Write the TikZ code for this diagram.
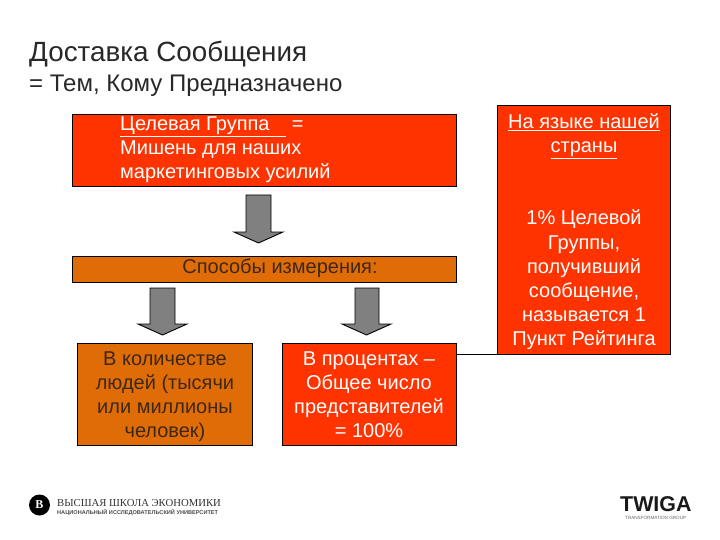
\documentclass[tikz,border=0pt]{standalone}
\usepackage{fontspec}
\setmainfont{Liberation Sans}
\newfontfamily\logoserif{Liberation Serif}
\definecolor{redbox}{RGB}{255,51,0}
\definecolor{orangebox}{RGB}{224,108,8}
\definecolor{arrowgray}{RGB}{128,128,128}
\definecolor{darktxt}{RGB}{60,40,20}
\definecolor{titletxt}{RGB}{40,40,40}
\tikzset{
 box/.style={draw=black,line width=0.9pt,inner sep=0pt,anchor=north west},
 redb/.style={box,fill=redbox},
 orb/.style={box,fill=orangebox},
 ln/.style={font=\fontsize{20}{24}\selectfont,align=center,inner sep=0pt},
 lnl/.style={anchor=base west,inner sep=0pt,font=\fontsize{20}{24}\selectfont,text=white},
 downarrow/.style={draw=black,line width=0.9pt,fill=arrowgray},
}
\begin{document}
\begin{tikzpicture}[x=1pt,y=-1pt]
\useasboundingbox (0,0) rectangle (720,540);
\fill[white] (0,0) rectangle (720,540);
\node[anchor=base west,inner sep=0pt,text=titletxt,font=\fontsize{27.8}{30}\selectfont] (title) at (29,62) {Доставка Сообщения};
\node[anchor=base west,inner sep=0pt,text=titletxt,font=\fontsize{24}{26}\selectfont] (sub) at (29,92) {= Тем, Кому Предназначено};
\node[redb,minimum width=384pt,minimum height=72pt] (b1) at (72,114) {};
\node[redb,minimum width=173pt,minimum height=249pt] (r) at (497,105) {};
\node[orb,minimum width=384pt,minimum height=26pt] (b2) at (72,256) {};
\node[orb,minimum width=175pt,minimum height=102pt] (b3) at (77,343) {};
\node[redb,minimum width=174pt,minimum height=102pt] (b4) at (282,343) {};
\node[lnl] (t1a) at (120,131) {\underline{Целевая Группа\ \ \ }\ =};
\node[lnl] (t1b) at (120,155) {Мишень для наших};
\node[lnl] (t1c) at (120,179) {маркетинговых усилий};
\node[ln,anchor=base,text=darktxt] (t2) at (280,273) {Способы измерения:};
\node[ln,text=darktxt,anchor=base] (t3a) at (165,365) {В количестве};
\node[ln,text=darktxt,anchor=base] (t3b) at (165,389) {людей (тысячи};
\node[ln,text=darktxt,anchor=base] (t3c) at (165,413) {или миллионы};
\node[ln,text=darktxt,anchor=base] (t3d) at (165,437) {человек)};
\node[ln,text=white,anchor=base] (t4a) at (369,365) {В процентах --};
\node[ln,text=white,anchor=base] (t4b) at (369,389) {Общее число};
\node[ln,text=white,anchor=base] (t4c) at (369,413) {представителей};
\node[ln,text=white,anchor=base] (t4d) at (369,437) {= 100\%};
\node[ln,text=white,anchor=base] (t5a) at (584,129) {\underline{На языке нашей}};
\node[ln,text=white,anchor=base] (t5b) at (584,153) {\underline{страны}};
\node[ln,text=white,anchor=base] (t6) at (584,225) {1\% Целевой};
\node[ln,text=white,anchor=base] (t7) at (584,249) {Группы,};
\node[ln,text=white,anchor=base] (t8) at (584,273) {получивший};
\node[ln,text=white,anchor=base] (t9) at (584,297) {сообщение,};
\node[ln,text=white,anchor=base] (t10) at (584,321) {называется 1};
\node[ln,text=white,anchor=base] (t11) at (584,345) {Пункт Рейтинга};
\node[ln,text=white,anchor=base] (t12) at (584,369) {(или же 1 Rat)};
\draw[black,line width=0.9pt] (b4.east |- r.south) -- (r.south east);
\draw[downarrow] (246,195) -- (271,195) -- (271,232) -- (283,232) -- (258.5,243) -- (234,232) -- (246,232) -- cycle;
\draw[downarrow] (150,288) -- (175,288) -- (175,324) -- (187,324) -- (162.5,335) -- (138,324) -- (150,324) -- cycle;
\draw[downarrow] (355,288) -- (379,288) -- (379,324) -- (391,324) -- (366.5,335) -- (342,324) -- (355,324) -- cycle;
\fill[black] (39.5,505) circle (10.5pt);
\node[text=white,font=\logoserif\bfseries\fontsize{12}{12}\selectfont,inner sep=0pt] (logob) at (39.5,505) {В};
\node[anchor=base west,inner sep=0pt,font=\logoserif\fontsize{10.7}{11}\selectfont,text=black!80] (logo1) at (57,506) {ВЫСШАЯ ШКОЛА ЭКОНОМИКИ};
\node[anchor=base west,inner sep=0pt,font=\bfseries\fontsize{5.6}{6}\selectfont,text=black!70] (logo2) at (57,514) {НАЦИОНАЛЬНЫЙ ИССЛЕДОВАТЕЛЬСКИЙ УНИВЕРСИТЕТ};
\node[anchor=base west,inner sep=0pt,font=\bfseries\fontsize{21.4}{22}\selectfont,text=black!90] (tw) at (620,511) {TWIGA};
\node[anchor=base west,inner sep=0pt,font=\fontsize{4.6}{5}\selectfont,text=black!60] (tw2) at (625,519) {TRANSFORMATION GROUP};
\end{tikzpicture}
\end{document}
